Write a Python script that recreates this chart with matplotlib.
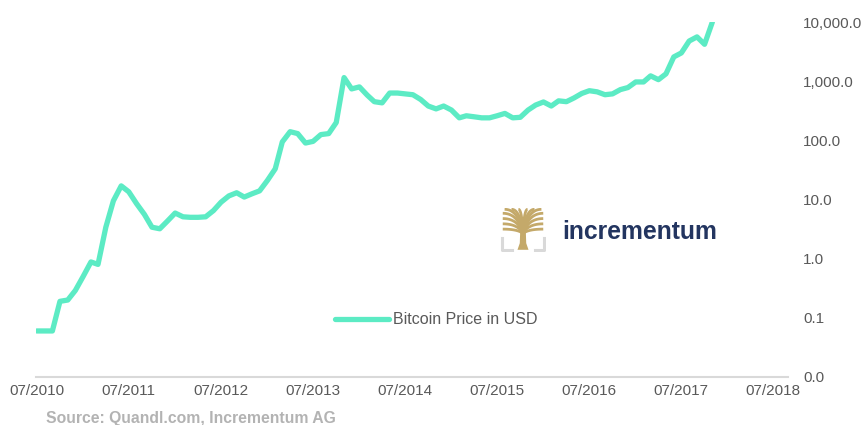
import matplotlib
matplotlib.use("Agg")
import matplotlib.pyplot as plt
import numpy as np
import pandas as pd
from matplotlib.ticker import FuncFormatter, FixedLocator

# Monatswerte Bitcoin (USD), 07/2010 bis 11/2017
months = pd.date_range("2010-07-01", periods=89, freq="MS")
price = [
    0.06, 0.06, 0.06, 0.19, 0.20, 0.29, 0.50, 0.88, 0.80, 3.4,
    9.5, 17.0, 13.5, 8.5, 5.6, 3.4, 3.2, 4.3, 5.9, 5.1,
    5.0, 5.0, 5.1, 6.5, 9.0, 11.5, 13.0, 11.0, 12.5, 14.0,
    21.0, 33.0, 94.0, 140.0, 130.0, 90.0, 96.0, 125.0, 130.0, 200.0,
    1150.0, 740.0, 800.0, 580.0, 450.0, 430.0, 630.0, 630.0, 610.0, 590.0,
    490.0, 380.0, 340.0, 380.0, 325.0, 240.0, 260.0, 250.0, 240.0, 240.0,
    260.0, 285.0, 240.0, 245.0, 325.0, 395.0, 445.0, 380.0, 465.0, 450.0,
    520.0, 620.0, 690.0, 660.0, 590.0, 610.0, 720.0, 780.0, 970.0, 970.0,
    1230.0, 1060.0, 1330.0, 2570.0, 3000.0, 4770.0, 5600.0, 4200.0, 10000.0,
]
x_ticks = pd.date_range("2010-07-01", periods=9, freq="12MS")
x_labels = [d.strftime("%m/%Y") for d in x_ticks]
y_ticks = [0.01, 0.1, 1, 10, 100, 1000, 10000]

line_col = "#5CEBC4"
text_col = "#595959"
fam = ["Liberation Sans", "DejaVu Sans"]

fig = plt.figure(figsize=(8.64, 4.25), dpi=100)
ax = fig.add_axes([36 / 864, 48 / 425, 752 / 864, 355 / 425])

ax.plot(months, price, color=line_col, lw=3.8, solid_joinstyle="round",
        solid_capstyle="round", label="Bitcoin Price in USD")

ax.set_yscale("log")
ax.set_ylim(0.01, 10000)
ax.set_xlim(pd.Timestamp("2010-06-28"), pd.Timestamp("2018-08-28"))

ax.yaxis.tick_right()
ax.yaxis.set_major_locator(FixedLocator(y_ticks))
ax.yaxis.set_minor_locator(FixedLocator([]))
ax.yaxis.set_major_formatter(FuncFormatter(lambda v, p: f"{v:,.1f}"))
ax.tick_params(axis="y", length=0, pad=11, labelsize=11, labelcolor=text_col)

ax.set_xticks(x_ticks)
ax.set_xticklabels(x_labels)
ax.tick_params(axis="x", length=0, pad=5, labelsize=11, labelcolor=text_col)
for lab in ax.get_xticklabels() + ax.get_yticklabels():
    lab.set_family(fam)

for s in ["top", "right", "left"]:
    ax.spines[s].set_visible(False)
ax.spines["bottom"].set_color("#d9d9d9")
ax.spines["bottom"].set_linewidth(1.5)

leg = ax.legend(loc="center", bbox_to_anchor=(436 / 864, 1 - 320 / 425),
                bbox_transform=fig.transFigure, frameon=False,
                handlelength=3.4, handletextpad=0.25,
                prop={"family": fam, "size": 11.5})
for t in leg.get_texts():
    t.set_color(text_col)

# Logo: stilisierter Baum + Schriftzug
lax = fig.add_axes([500 / 864, 1 - 252 / 425, 46 / 864, 44 / 425])
lax.set_xlim(0, 1)
lax.set_ylim(0, 1)
lax.axis("off")
gold = "#C4A96A"
grey = "#d9d9d9"
# Stamm
lax.fill([0.38, 0.62, 0.57, 0.56, 0.44, 0.43], [0.05, 0.05, 0.2, 0.5, 0.5, 0.2],
         color=gold, lw=0)
# Äste bis an den Rand eines Quadrats
ends = [(0.06, 0.52), (0.06, 0.64), (0.06, 0.76), (0.06, 0.88),
        (0.1, 0.97), (0.25, 0.97), (0.4, 0.97), (0.6, 0.97), (0.75, 0.97),
        (0.9, 0.97), (0.94, 0.88), (0.94, 0.76), (0.94, 0.64), (0.94, 0.52)]
tt = np.linspace(0, 1, 25)
for ex, ey in ends:
    cx, cy = 0.5 + (ex - 0.5) * 0.25, ey
    bx = (1 - tt) ** 2 * 0.5 + 2 * (1 - tt) * tt * cx + tt ** 2 * ex
    by = (1 - tt) ** 2 * 0.42 + 2 * (1 - tt) * tt * cy + tt ** 2 * ey
    lax.plot(bx, by, color=gold, lw=2.0, solid_capstyle="butt")
for side in [-1, 1]:
    lax.plot([0.5 + side * 0.45, 0.5 + side * 0.45, 0.5 + side * 0.25],
             [0.32, 0.04, 0.04], color=grey, lw=2.2)
fig.text(562 / 864, 1 - 232 / 425, "incrementum", color="#233560",
         fontsize=17.8, fontweight="bold", family=fam,
         va="center", ha="left")

fig.text(46 / 864, 1 - 418 / 425, "Source: Quandl.com, Incrementum AG",
         color="#b3b3b3", fontsize=11.3, fontweight="bold", family=fam,
         va="center", ha="left")

fig.savefig("out.png", dpi=100)
